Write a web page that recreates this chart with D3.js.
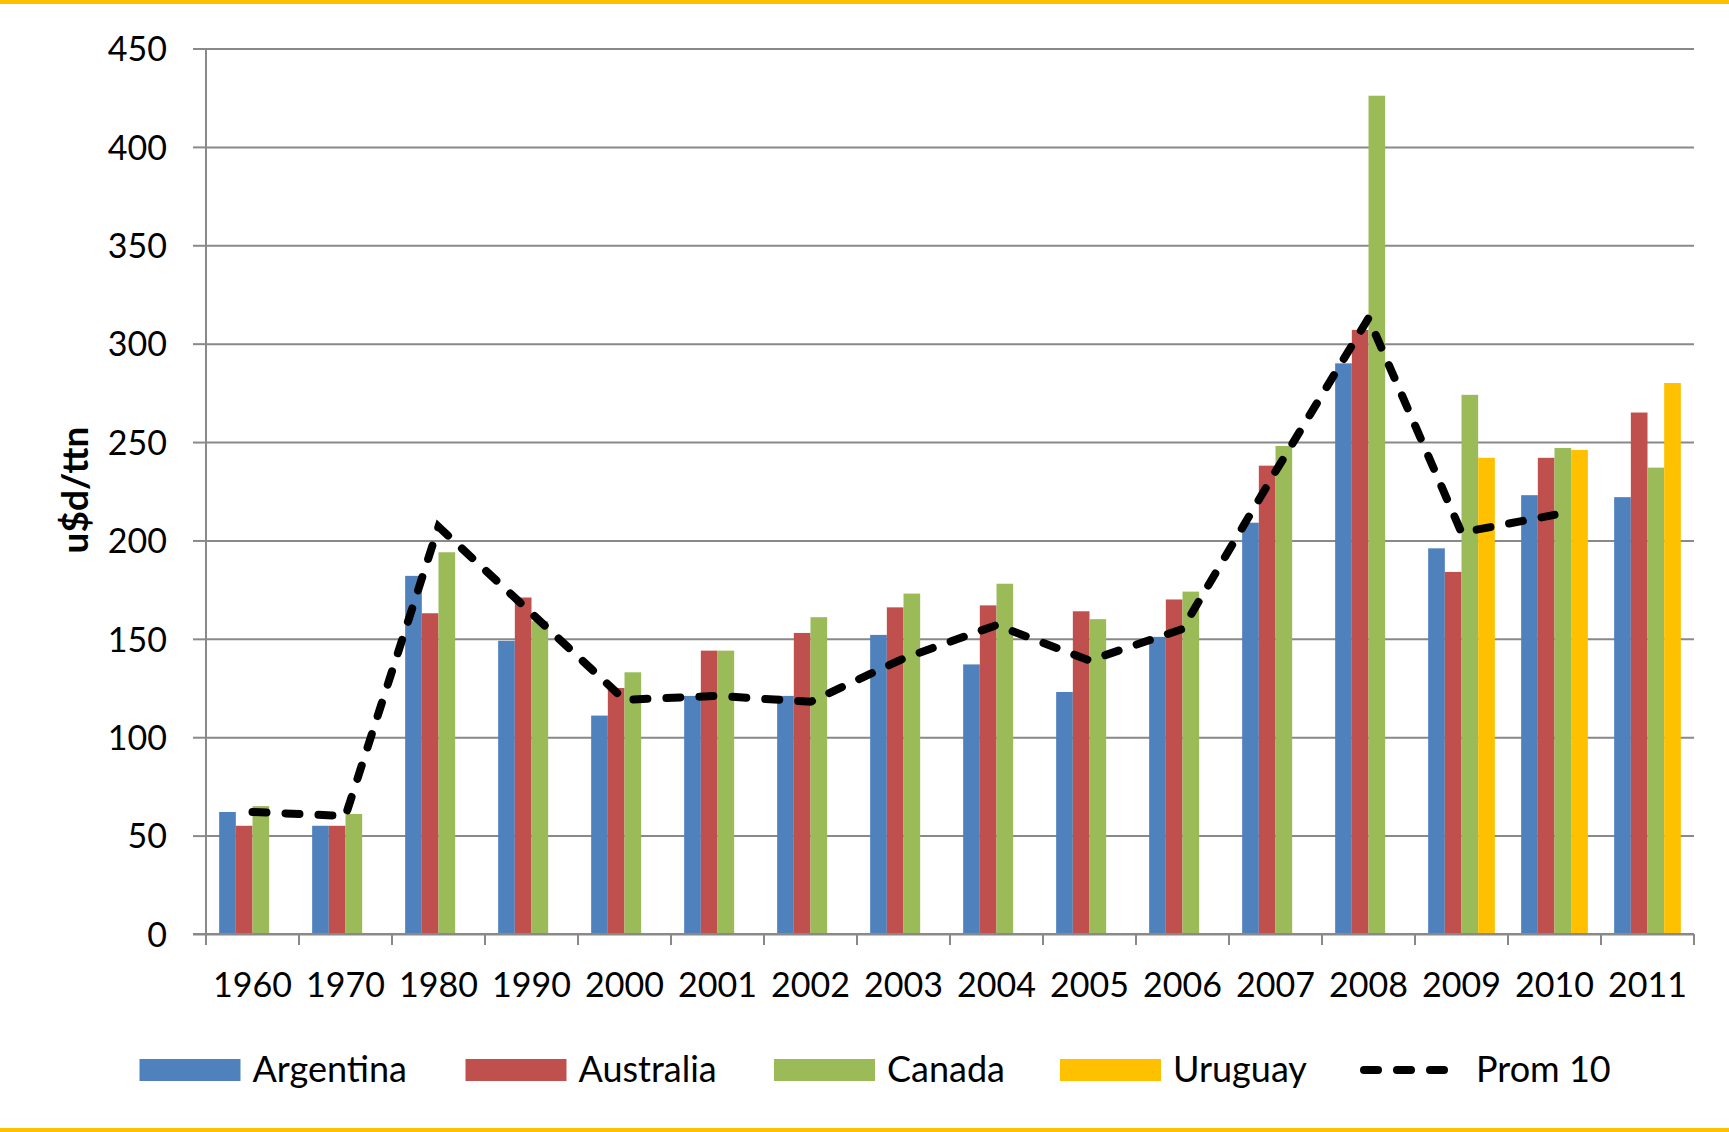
<!DOCTYPE html>
<html>
<head>
<meta charset="utf-8">
<script src="https://cdn.jsdelivr.net/npm/d3@7"></script>
<style>
  body { margin: 0; background: #fff; }
  svg text { font-family: Lato, "Open Sans", sans-serif; fill: #000; }
</style>
</head>
<body>
<svg width="1729" height="1132"></svg>
<script>
var years = ['1960','1970','1980','1990','2000','2001','2002','2003','2004','2005','2006','2007','2008','2009','2010','2011'];
var argentina = [62, 55, 182, 149, 111, 121, 121, 152, 137, 123, 151, 209, 290, 196, 223, 222];
var australia = [55, 55, 163, 171, 125, 144, 153, 166, 167, 164, 170, 238, 307, 184, 242, 265];
var canada    = [65, 61, 194, 159, 133, 144, 161, 173, 178, 160, 174, 248, 426, 274, 247, 237];
var uruguay   = [null, null, null, null, null, null, null, null, null, null, null, null, null, 242, 246, 280];
var prom10    = [62, 60, 207, 163, 119, 121, 118, 140, 157, 139, 155, 235, 313, 204, 213, null];
var seriesNames = ['Argentina', 'Australia', 'Canada', 'Uruguay'];
var colors = ['#4F81BD', '#C0504D', '#9BBB59', '#FFC000'];
var yTicks = [0, 50, 100, 150, 200, 250, 300, 350, 400, 450];

var svg = d3.select('svg');
var width = +svg.attr('width');
var height = +svg.attr('height');
var gridColor = '#898989';

var plotLeft = 206, plotRight = 1694, plotTop = 48.5, plotBottom = 934;

var series = [argentina, australia, canada, uruguay];

var x = d3.scaleBand().domain(years).range([plotLeft, plotRight]).padding(0);
var gap = x.bandwidth() * 0.1415;
var x1 = d3.scaleBand().domain(seriesNames).range([gap, x.bandwidth() - gap]).padding(0);
var y = d3.scaleLinear().domain([0, 450]).range([plotBottom, plotTop]);

// yellow frame lines top and bottom
svg.append('rect').attr('x', 0).attr('y', 0).attr('width', width).attr('height', 4).attr('fill', '#FFC000');
svg.append('rect').attr('x', 0).attr('y', height - 4).attr('width', width).attr('height', 4).attr('fill', '#FFC000');

// gridlines
svg.append('g')
    .attr('class', 'grid')
    .attr('transform', 'translate(' + plotLeft + ',0)')
    .call(d3.axisLeft(y).tickValues(yTicks).tickSize(-(plotRight - plotLeft)).tickFormat(''))
    .call(g => g.select('.domain').remove())
    .call(g => g.selectAll('line').attr('stroke', gridColor).attr('stroke-width', 2));

// y axis
var yAxis = svg.append('g')
    .attr('transform', 'translate(' + plotLeft + ',0)')
    .call(d3.axisLeft(y).tickValues(yTicks).tickSize(13).tickPadding(26));
yAxis.select('.domain').attr('stroke', gridColor).attr('stroke-width', 2).attr('d', 'M0,' + plotTop + 'V' + plotBottom);
yAxis.selectAll('line').attr('stroke', gridColor).attr('stroke-width', 2);
yAxis.selectAll('text').attr('font-size', '34px').attr('dy', '0.36em').attr('font-family', 'Lato, sans-serif');

// y title
svg.append('text')
    .attr('transform', 'translate(88,' + 490 + ') rotate(-90)')
    .attr('text-anchor', 'middle')
    .attr('font-size', '37px')
    .attr('font-weight', 'bold')
    .text('u$d/ttn');

// bars
var barG = svg.append('g').attr('class', 'bars');
series.forEach(function(vals, si) {
    barG.selectAll('.bar-' + si)
        .data(years.map((yr, i) => ({ year: yr, value: vals[i] })).filter(d => d.value !== null))
        .enter()
        .append('rect')
        .attr('class', 'bar-' + si)
        .attr('x', d => x(d.year) + x1(seriesNames[si]))
        .attr('width', x1.bandwidth())
        .attr('y', d => y(d.value))
        .attr('height', d => y(0) - y(d.value))
        .attr('fill', colors[si]);
});

// x axis: ticks at category edges
var xAxisG = svg.append('g');
xAxisG.append('line')
    .attr('x1', plotLeft - 13).attr('x2', plotRight)
    .attr('y1', plotBottom).attr('y2', plotBottom)
    .attr('stroke', gridColor).attr('stroke-width', 2);
var edges = years.map(yr => x(yr)).concat([plotRight]);
xAxisG.selectAll('.xtick')
    .data(edges)
    .enter()
    .append('line')
    .attr('class', 'xtick')
    .attr('x1', d => d).attr('x2', d => d)
    .attr('y1', plotBottom).attr('y2', plotBottom + 11)
    .attr('stroke', gridColor).attr('stroke-width', 2);
xAxisG.selectAll('.xlabel')
    .data(years)
    .enter()
    .append('text')
    .attr('class', 'xlabel')
    .attr('x', d => x(d) + x.bandwidth() / 2)
    .attr('y', 997)
    .attr('text-anchor', 'middle')
    .attr('font-size', '34px')
    .text(d => d);

// Prom 10 dashed line
var line = d3.line()
    .defined(d => d.value !== null)
    .x(d => x(d.year) + x.bandwidth() / 2)
    .y(d => y(d.value));
svg.append('path')
    .datum(years.map((yr, i) => ({ year: yr, value: prom10[i] })))
    .attr('d', line)
    .attr('fill', 'none')
    .attr('stroke', '#000')
    .attr('stroke-width', 8)
    .attr('stroke-linecap', 'round')
    .attr('stroke-dasharray', '14 19');

// legend
var legendX = [139.5, 465.5, 774, 1060];
var legend = svg.append('g').attr('class', 'legend');
seriesNames.forEach(function(name, i) {
    legend.append('rect')
        .attr('x', legendX[i]).attr('y', 1059)
        .attr('width', 101).attr('height', 22)
        .attr('fill', colors[i]);
    legend.append('text')
        .attr('x', legendX[i] + 113).attr('y', 1082)
        .attr('font-size', '36px')
        .text(name);
});
legend.append('line')
    .attr('x1', 1364).attr('x2', 1450)
    .attr('y1', 1070).attr('y2', 1070)
    .attr('stroke', '#000').attr('stroke-width', 8)
    .attr('stroke-linecap', 'round')
    .attr('stroke-dasharray', '14 19');
legend.append('text')
    .attr('x', 1476).attr('y', 1082)
    .attr('font-size', '36px')
    .text('Prom 10');
</script>
</body>
</html>
